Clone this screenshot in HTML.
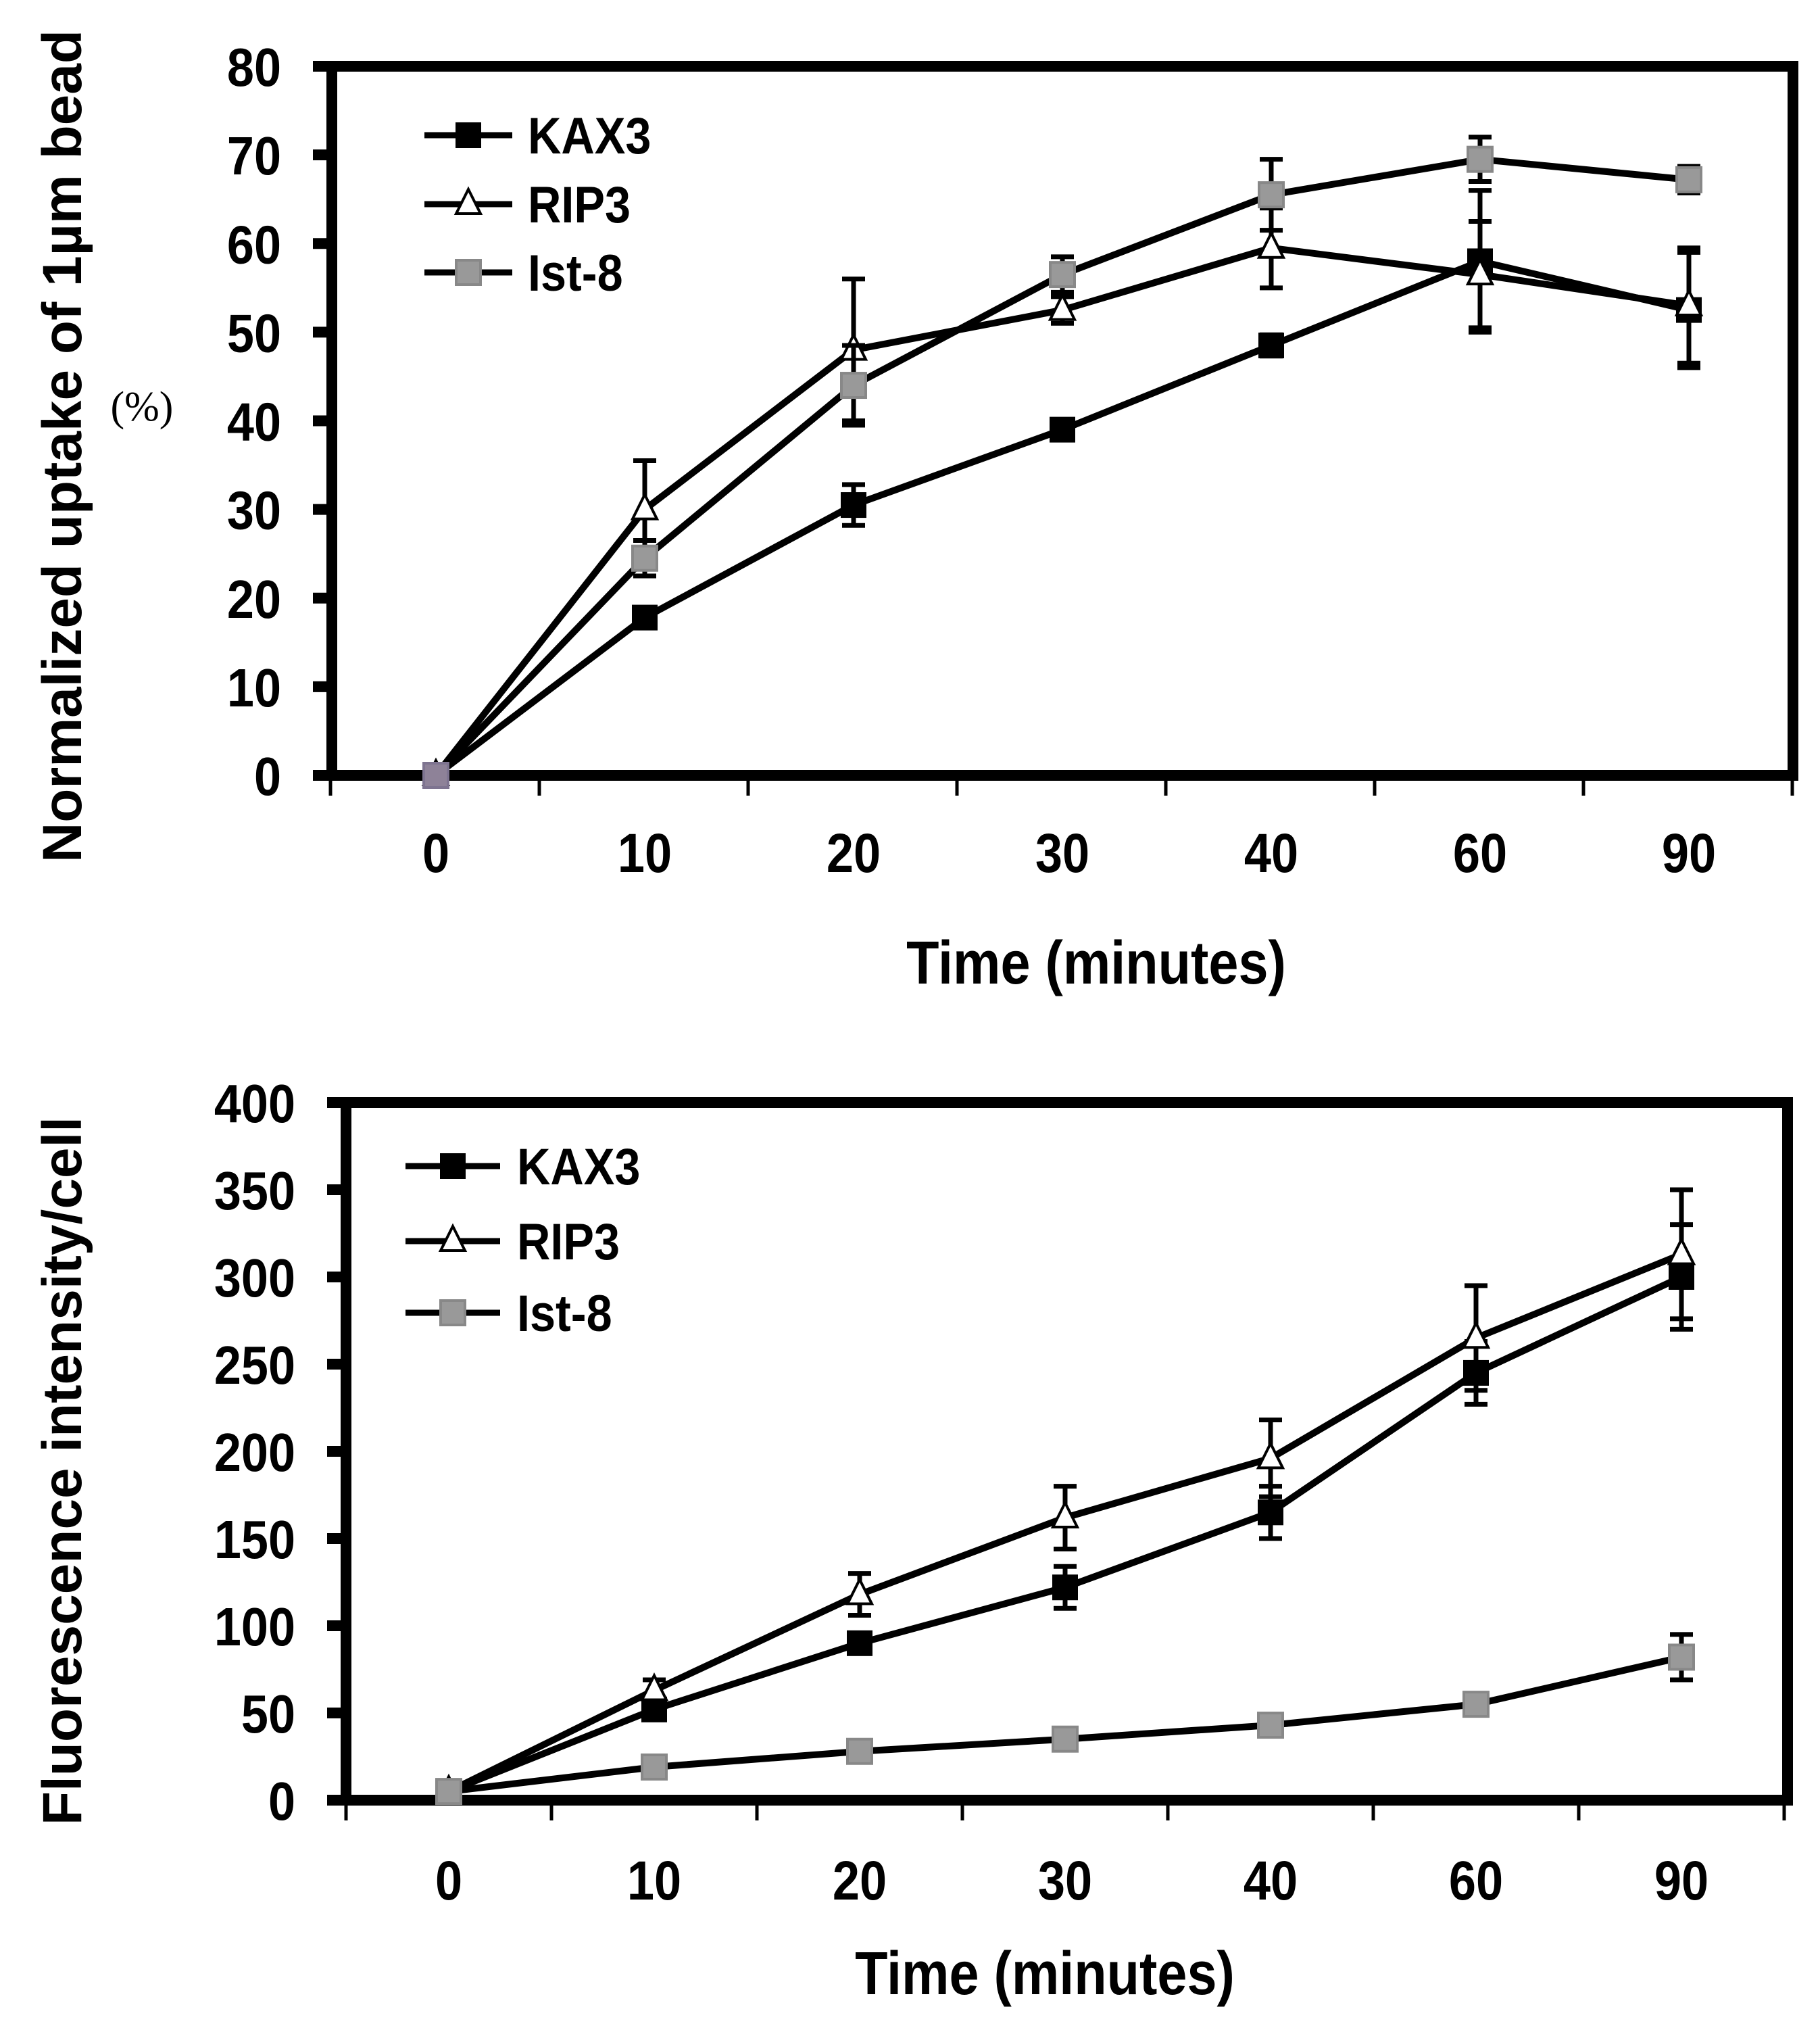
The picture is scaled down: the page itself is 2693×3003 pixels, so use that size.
<!DOCTYPE html>
<html><head><meta charset="utf-8"><style>
html,body{margin:0;padding:0;background:#fff;}
svg{display:block;}
text{font-family:"Liberation Sans",sans-serif;fill:#000;}
</style></head>
<body>
<svg id="svg" width="2693" height="3003" viewBox="0 0 2693 3003" xmlns="http://www.w3.org/2000/svg"></svg>
<script>
// categories
const categories = ["0","10","20","30","40","60","90"];
// chart 1 (uptake %)
const c1Ticks = [0,10,20,30,40,50,60,70,80];
const c1Kax3 = [0,17.8,30.5,39,48.5,58,52.5];
const c1Kax3Err = [0,1,2.3,1,1.2,8,6.5];
const c1Rip3 = [0,30,48,52.5,59.5,56.5,53];
const c1Rip3Err = [0,5.5,8,1.5,4.5,6,6.5];
const c1Ist8 = [0,24.5,44,56.5,65.5,69.5,67.2];
const c1Ist8Err = [0,2,4.5,2,4,2.5,1.5];
// chart 2 (fluorescence)
const c2Ticks = [0,50,100,150,200,250,300,350,400];
const c2Kax3 = [5,52,90,122,165,245,300];
const c2Kax3Err = [0,5,5,12,15,18,30];
const c2Rip3 = [5,63,118,162,196,265,313];
const c2Rip3Err = [0,6,12,18,22,30,37];
const c2Ist8 = [5,19,28,35,43,55,82];
const c2Ist8Err = [0,2,3,2,3,5,13];

const NS="http://www.w3.org/2000/svg";
const svg=document.getElementById('svg');
function mk(tag,attrs,parent){const e=document.createElementNS(NS,tag);for(const k in attrs)e.setAttribute(k,attrs[k]);(parent||svg).appendChild(e);return e;}

function chart(cfg){
  const g=mk('g',{});
  
  
  const L=cfg.left,R=cfg.right,T=cfg.top,B=cfg.bottom;
  const ymax=cfg.ticks[cfg.ticks.length-1];
  const ys=v=>B-(v/ymax)*(B-T);
  const xs=i=>cfg.cat0+i*cfg.step;
  const fr=mk('rect',{x:L,y:T,width:R-L,height:B-T,fill:'none',stroke:'#000','stroke-width':16},g);
  
  
  cfg.ticks.forEach(t=>{
    const y=ys(t);
    const tk=mk('rect',{x:L-28,y:y-8,width:28,height:16,fill:'#000'},g);
    
    
    const tx=mk('text',{transform:`translate(${cfg.ylabRight},${y+29}) scale(0.9,1)`,'text-anchor':'end','font-size':80,'font-weight':'bold'},g);
    tx.textContent=String(t);
    
    
  });
  for(let k=0;k<=categories.length;k++){
    const x=cfg.tick0+k*cfg.step;
    const tk=mk('line',{x1:x,y1:B+8,x2:x,y2:B+30,stroke:'#000','stroke-width':5},g);
    
    
  }
  categories.forEach((c,i)=>{
    const tx=mk('text',{transform:`translate(${xs(i)},${cfg.xlabY}) scale(0.88,1)`,'text-anchor':'middle','font-size':82,'font-weight':'bold'},g);
    tx.textContent=c;
    
    
  });
  const xt=mk('text',{transform:`translate(${cfg.xtitleX},${cfg.xtitleY}) scale(0.88,1)`,'text-anchor':'middle','font-size':90,'font-weight':'bold'},g);
  xt.textContent='Time (minutes)';
  
  
  const yt=mk('text',{transform:`translate(${cfg.ytitleX},${cfg.ytitleY}) rotate(-90)`,'text-anchor':'middle','font-size':cfg.ytitleSize,'font-weight':'bold'},g);
  yt.textContent=cfg.ytitle;
  
  
  if(cfg.pct){
    const p=mk('text',{x:210,y:622,'text-anchor':'middle','font-size':62,style:'font-family:"Liberation Serif",serif'},g);
    p.textContent='(%)';
    
    
  }
  cfg.series.forEach(s=>{
    const sg=mk('g',{},g);
    
    
    s.vals.forEach((v,i)=>{
      const e=s.err[i]; if(!e) return;
      const x=xs(i),y1=ys(v+e),y2=ys(v-e);
      const eb=mk('path',{d:`M${x},${y1}V${y2}M${x-17},${y1}H${x+17}M${x-17},${y2}H${x+17}`,stroke:'#000','stroke-width':7,fill:'none'},sg);
      
      
    });
    const pts=s.vals.map((v,i)=>xs(i)+','+ys(v)).join(' ');
    const ln=mk('polyline',{points:pts,fill:'none',stroke:'#000','stroke-width':10,'stroke-linejoin':'round'},sg);
    
    
    s.vals.forEach((v,i)=>{
      const m=marker(s.kind,xs(i),ys(v),sg, i===0&&cfg.pct);
      
      
    });
  });
  cfg.series.forEach((s,j)=>{
    const y=cfg.legY[j];
    const lg=mk('g',{},g);
    
    
    mk('line',{x1:cfg.legX1,y1:y,x2:cfg.legX2,y2:y,stroke:'#000','stroke-width':9},lg);
    marker(s.kind,(cfg.legX1+cfg.legX2)/2,y,lg,false);
    const t=mk('text',{transform:`translate(${cfg.legTX},${y+27}) scale(0.9,1)`,'font-size':76,'font-weight':'bold'},lg);
    t.textContent=s.label;
  });
}
function marker(kind,x,y,parent,purple){
  if(kind==='sq') return mk('rect',{x:x-19,y:y-19,width:38,height:38,fill:'#000'},parent);
  if(kind==='gray') return mk('rect',{x:x-18,y:y-18,width:36,height:36,fill:purple?'#8e8298':'#999',stroke:purple?'#7e7490':'#888','stroke-width':4},parent);
  return mk('path',{d:`M${x},${y-22}L${x+18},${y+14}L${x-18},${y+14}Z`,fill:'#fff',stroke:'#000','stroke-width':4},parent);
}

chart({name:'uptake-chart',left:491,right:2653,top:98,bottom:1147,ticks:c1Ticks,
  cat0:645,step:309,tick0:489,ylabRight:416,xlabY:1290,xtitleX:1622,xtitleY:1455,
  ytitle:'Normalized uptake of 1µm bead',ytitleSize:82,ytitleX:120,ytitleY:660,pct:true,
  legX1:628,legX2:758,legTX:781,legY:[200,302,403],
  series:[{key:'kax3',label:'KAX3',kind:'sq',vals:c1Kax3,err:c1Kax3Err},
          {key:'rip3',label:'RIP3',kind:'tri',vals:c1Rip3,err:c1Rip3Err},
          {key:'ist8',label:'Ist-8',kind:'gray',vals:c1Ist8,err:c1Ist8Err}]
});
chart({name:'fluorescence-chart',left:512,right:2645,top:1631,bottom:2663,ticks:c2Ticks,
  cat0:664,step:304,tick0:512,ylabRight:437,xlabY:2810,xtitleX:1546,xtitleY:2950,
  ytitle:'Fluorescence intensity/cell',ytitleSize:82,ytitleX:120,ytitleY:2176,pct:false,
  legX1:600,legX2:740,legTX:765,legY:[1725,1836,1942],
  series:[{key:'kax3',label:'KAX3',kind:'sq',vals:c2Kax3,err:c2Kax3Err},
          {key:'rip3',label:'RIP3',kind:'tri',vals:c2Rip3,err:c2Rip3Err},
          {key:'ist8',label:'Ist-8',kind:'gray',vals:c2Ist8,err:c2Ist8Err}]
});
</script>
</body></html>
